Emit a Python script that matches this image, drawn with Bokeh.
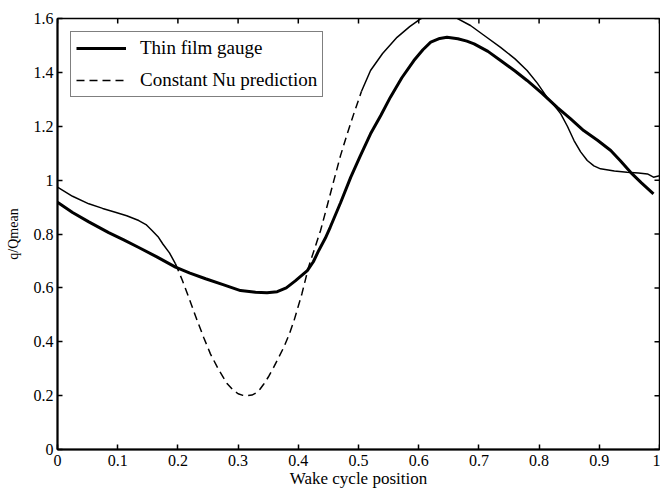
import numpy as np
from bokeh.plotting import figure
from bokeh.models import Range1d, FixedTicker, Legend, LegendItem
from bokeh.embed import file_html
from bokeh.resources import INLINE

# Thin film gauge (measured)
gauge_x = [0.0, 0.025, 0.052, 0.085, 0.110, 0.135, 0.165, 0.196, 0.220, 0.246,
           0.275, 0.304, 0.329, 0.348, 0.365, 0.380, 0.395, 0.415, 0.425, 0.434,
           0.445, 0.453, 0.470, 0.487, 0.503, 0.520, 0.537, 0.553, 0.572, 0.592,
           0.607, 0.620, 0.635, 0.647, 0.665, 0.680, 0.692, 0.715, 0.736, 0.760,
           0.780, 0.805, 0.830, 0.852, 0.874, 0.897, 0.919, 0.935, 0.952, 0.970,
           0.990]
gauge_y = [0.918, 0.880, 0.845, 0.805, 0.778, 0.750, 0.715, 0.677, 0.655, 0.634,
           0.612, 0.590, 0.584, 0.582, 0.586, 0.600, 0.626, 0.664, 0.697, 0.739,
           0.785, 0.825, 0.915, 1.010, 1.090, 1.172, 1.240, 1.308, 1.380, 1.444,
           1.484, 1.512, 1.526, 1.530, 1.525, 1.516, 1.506, 1.478, 1.444, 1.405,
           1.370, 1.322, 1.270, 1.228, 1.184, 1.148, 1.110, 1.072, 1.029, 0.990,
           0.949]

# Constant Nu prediction
pred_x = [0.0, 0.025, 0.052, 0.075, 0.096, 0.115, 0.135, 0.147, 0.157, 0.167,
          0.175, 0.186, 0.196, 0.207, 0.218, 0.232, 0.243, 0.254, 0.268, 0.282,
          0.292, 0.300, 0.308, 0.315, 0.323, 0.330, 0.336, 0.343, 0.351, 0.359,
          0.367, 0.376, 0.385, 0.393, 0.406, 0.417, 0.427, 0.437, 0.448, 0.459,
          0.470, 0.481, 0.492, 0.505, 0.520, 0.540, 0.564, 0.585, 0.603, 0.620,
          0.640, 0.660, 0.686, 0.710, 0.736, 0.760, 0.780, 0.797, 0.813, 0.825,
          0.836, 0.847, 0.858, 0.869, 0.880, 0.891, 0.902, 0.925, 0.946, 0.965,
          0.980, 0.990, 1.0]
pred_y = [0.974, 0.940, 0.912, 0.895, 0.881, 0.868, 0.850, 0.835, 0.813, 0.790,
          0.763, 0.730, 0.689, 0.630, 0.565, 0.479, 0.415, 0.355, 0.295, 0.244,
          0.220, 0.207, 0.201, 0.200, 0.202, 0.210, 0.223, 0.244, 0.272, 0.305,
          0.340, 0.380, 0.428, 0.479, 0.578, 0.677, 0.745, 0.813, 0.905, 0.998,
          1.090, 1.170, 1.245, 1.330, 1.407, 1.470, 1.530, 1.570, 1.599, 1.610,
          1.612, 1.605, 1.574, 1.535, 1.493, 1.450, 1.407, 1.360, 1.308, 1.278,
          1.246, 1.200, 1.147, 1.105, 1.073, 1.053, 1.042, 1.034, 1.029, 1.026,
          1.023, 1.011, 1.016]

x_ticks = [0, 0.1, 0.2, 0.3, 0.4, 0.5, 0.6, 0.7, 0.8, 0.9, 1]
x_tick_labels = ["0", "0.1", "0.2", "0.3", "0.4", "0.5", "0.6", "0.7", "0.8", "0.9", "1"]
y_ticks = [0, 0.2, 0.4, 0.6, 0.8, 1, 1.2, 1.4, 1.6]
y_tick_labels = ["0", "0.2", "0.4", "0.6", "0.8", "1", "1.2", "1.4", "1.6"]

FONT = "Liberation Serif"
X_MIN, X_MAX, Y_MIN, Y_MAX = 0, 1, 0, 1.6

p = figure(width=660, height=491, output_backend="svg", toolbar_location=None,
           x_range=Range1d(X_MIN, X_MAX), y_range=Range1d(Y_MIN, Y_MAX),
           min_border_left=57, min_border_right=1, min_border_top=18,
           min_border_bottom=42, background_fill_color="white",
           border_fill_color="white")
p.xgrid.visible = False
p.ygrid.visible = False
p.outline_line_color = "black"
p.outline_line_width = 1.5

def style_axis(ax, ticks, labels):
    ax.ticker = FixedTicker(ticks=ticks)
    ax.major_label_overrides = dict(zip(ticks, labels))
    ax.minor_tick_line_color = None
    ax.major_tick_in = 5
    ax.major_tick_out = 0
    ax.major_tick_line_width = 1.5
    ax.axis_line_width = 2
    ax.axis_line_color = "black"
    ax.major_label_text_font = FONT
    ax.major_label_text_color = "black"
    ax.major_label_text_font_size = "16px"

style_axis(p.xaxis[0], x_ticks, x_tick_labels)
style_axis(p.yaxis[0], y_ticks, y_tick_labels)
p.xaxis[0].major_label_standoff = 5
p.yaxis[0].major_label_standoff = 4
p.xaxis[0].axis_label = "Wake cycle position"
p.yaxis[0].axis_label = "q/Qmean"
for ax, size, so in ((p.xaxis[0], "17px", 0), (p.yaxis[0], "14px", 10)):
    ax.axis_label_text_font = FONT
    ax.axis_label_text_font_size = size
    ax.axis_label_text_font_style = "normal"
    ax.axis_label_text_color = "black"
    ax.axis_label_standoff = so

# inward tick marks on the top and right edges of the box
p.ray(x=x_ticks, y=[Y_MAX] * len(x_ticks), length=5, length_units="screen",
      angle=-np.pi / 2, line_color="black", line_width=1.5)
p.ray(x=[X_MAX] * len(y_ticks), y=y_ticks, length=5, length_units="screen",
      angle=np.pi, line_color="black", line_width=1.5)

r_gauge = p.line(gauge_x, gauge_y, line_color="black", line_width=3)

px = np.array(pred_x)
py = np.array(pred_y)
DASH_START, DASH_END = 0.196, 0.505
m1 = px <= DASH_START
m2 = (px >= DASH_START) & (px <= DASH_END)
m3 = px >= DASH_END
p.line(px[m1], py[m1], line_color="black", line_width=1.5)
r_dash = p.line(px[m2], py[m2], line_color="black", line_width=1.5, line_dash="8 5")
p.line(px[m3], py[m3], line_color="black", line_width=1.5)

legend = Legend(items=[LegendItem(label="Thin film gauge", renderers=[r_gauge]),
                       LegendItem(label="Constant Nu prediction", renderers=[r_dash])],
                location="top_left", margin=13, padding=5, spacing=10,
                glyph_width=50, glyph_height=20, label_height=20,
                label_standoff=14, label_text_font=FONT,
                label_text_font_size="19px", label_text_color="black",
                border_line_color="black", border_line_width=1.5,
                background_fill_color="white", background_fill_alpha=1.0)
p.add_layout(legend)

open("out.html", "w").write(file_html(p, INLINE))
